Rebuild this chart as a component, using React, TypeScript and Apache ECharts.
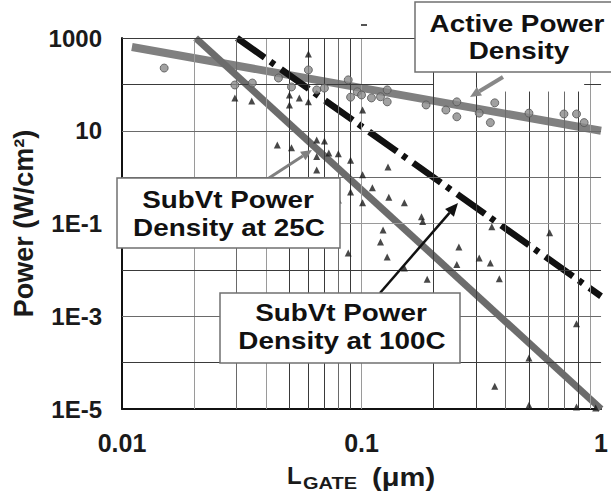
import { useEffect, useRef } from 'react';
import * as echarts from 'echarts';

// Power density versus gate length, both axes logarithmic.
const xTickValues = [0.01, 0.1, 1];
const xTickLabels = ['0.01', '0.1', '1'];
const yTickValues = [1e-5, 1e-3, 1e-1, 10, 1000];
const yTickLabels = ['1E-5', '1E-3', '1E-1', '10', '1000'];

// Trend lines, [L_gate (µm), power (W/cm²)]
const activePowerFit = [[0.011, 640], [1, 10]];
const subVt25Fit = [[0.0203, 1000], [1, 1e-5]];
const subVt100Fit = [[0.0302, 1000], [1, 2.7e-3]];

// Measured active power density
const activePowerPoints = [
  [0.015, 225], [0.0296, 97], [0.035, 107], [0.045, 137], [0.051, 88],
  [0.06, 205], [0.065, 76], [0.07, 83], [0.088, 125], [0.09, 53],
  [0.096, 69], [0.1, 59], [0.11, 51], [0.12, 54], [0.128, 76],
  [0.128, 42], [0.186, 36], [0.225, 28], [0.25, 42], [0.25, 20],
  [0.31, 24], [0.36, 40], [0.345, 15], [0.5, 24], [0.7, 23],
  [0.79, 23], [0.85, 15],
];

// Measured subthreshold power density
const subVtPoints = [
  [0.0296, 51], [0.0348, 44], [0.05, 59], [0.05, 36], [0.055, 51],
  [0.06, 42], [0.06, 452], [0.101, 28],
  [0.0445, 4.9], [0.051, 4.3], [0.065, 6.3], [0.07, 6.0], [0.065, 2.8],
  [0.073, 3.3], [0.08, 3.2], [0.09, 2.3], [0.065, 1.43],
  [0.101, 1.12], [0.129, 1.66], [0.111, 0.59], [0.09, 0.48], [0.13, 0.37],
  [0.08, 0.32], [0.101, 0.28], [0.151, 0.28],
  [0.178, 0.14], [0.18, 0.11], [0.123, 0.072], [0.12, 0.04], [0.088, 0.023],
  [0.128, 0.019], [0.151, 0.011],
  [0.188, 0.0063], [0.35, 0.085], [0.61, 0.063], [0.255, 0.031], [0.25, 0.013],
  [0.31, 0.018], [0.345, 0.014], [0.376, 0.0064],
  [0.25, 5.9e-4], [0.79, 6.9e-4], [0.5, 1.26e-4], [0.36, 3.1e-5],
  [0.5, 1.2e-5], [0.79, 1.1e-5], [0.95, 1.05e-5],
];

// Grid lines
const xGridValues = [0.02, 0.03, 0.04, 0.05, 0.06, 0.07, 0.08, 0.09, 0.1,
  0.2, 0.3, 0.4, 0.5, 0.6, 0.7, 0.8, 0.9];
const yGridValues = [1e-4, 1e-3, 1e-2, 1e-1, 1, 10, 100, 1000];

const DARK = '#3a3a3a';
const MID = '#6a6a6a';
const LIGHT = '#9a9a9a';
const xGridShade = [LIGHT, MID, LIGHT, DARK, DARK, DARK, MID, DARK, LIGHT,
  DARK, DARK, MID, DARK, MID, MID, DARK, LIGHT];
const xGridTop = [1000, 1000, 1000, 1000, 1000, 1000, 1000, 1000, 1000,
  1000, 1000, 70, 70, 70, 70, 70, 1000];
const yGridShade = [DARK, MID, DARK, LIGHT, MID, MID, DARK, DARK];

const tickFormatter = (vals: number[], labels: string[]) => (v: number) => {
  const i = vals.findIndex((t) => Math.abs(Math.log10(t) - Math.log10(v)) < 1e-6);
  return i < 0 ? '' : labels[i];
};

function gridSegments() {
  const segs: any[] = [];
  xGridValues.forEach((x, i) => {
    segs.push([
      { coord: [x, 1e-5], lineStyle: { color: xGridShade[i], width: 1, type: 'solid' } },
      { coord: [x, xGridTop[i]] },
    ]);
  });
  yGridValues.forEach((y, i) => {
    const style = { color: yGridShade[i], width: 1, type: 'solid' };
    if (y === 100) {
      segs.push([{ coord: [0.01, y], lineStyle: style }, { coord: [0.2, y] }]);
      segs.push([{ coord: [0.85, y], lineStyle: style }, { coord: [1, y] }]);
    } else {
      segs.push([{ coord: [0.01, y], lineStyle: style }, { coord: [1, y] }]);
    }
  });
  return segs;
}

function arrow(x1: number, y1: number, x2: number, y2: number, color: string, width: number, head: number) {
  const a = Math.atan2(y2 - y1, x2 - x1);
  const bx = x2 - head * Math.cos(a);
  const by = y2 - head * Math.sin(a);
  const hw = head * 0.45;
  const p1 = [bx + hw * Math.sin(a), by - hw * Math.cos(a)];
  const p2 = [bx - hw * Math.sin(a), by + hw * Math.cos(a)];
  return [
    { type: 'line', z: 90, shape: { x1, y1, x2: bx, y2: by }, style: { stroke: color, lineWidth: width } },
    { type: 'polygon', z: 90, shape: { points: [[x2, y2], p1, p2] }, style: { fill: color } },
  ];
}

const FONT = '"Liberation Sans", Arial, sans-serif';

function boxText(x: number, y: number, text: string) {
  return {
    type: 'text', z: 101, x, y, scaleX: 1.16,
    style: {
      text, font: `bold 24px ${FONT}`, fill: '#111',
      textAlign: 'center', textVerticalAlign: 'middle',
    },
  };
}

function box(x: number, y: number, w: number, h: number) {
  return {
    type: 'rect', z: 100, shape: { x, y, width: w, height: h },
    style: { fill: '#fff', stroke: '#707070', lineWidth: 1.5 },
  };
}

export default function App() {
  const ref = useRef<HTMLDivElement>(null);

  useEffect(() => {
    if (!ref.current) return;
    const chart = echarts.init(ref.current, null, { renderer: 'svg' });
    chart.setOption({
      animation: false,
      backgroundColor: '#fff',
      grid: { left: 122, right: 1, top: 38, bottom: 88 },
      xAxis: {
        type: 'log', logBase: 10, min: 0.01, max: 1, interval: 1,
        axisLine: { show: true, lineStyle: { color: '#111', width: 2 } },
        axisTick: { show: false },
        splitLine: { show: false },
        axisLabel: {
          margin: 21, color: '#1a1a1a', fontFamily: FONT, fontSize: 25, fontWeight: 'bold',
          formatter: tickFormatter(xTickValues, xTickLabels),
        },
      },
      yAxis: {
        type: 'log', logBase: 10, min: 1e-5, max: 1000, interval: 1,
        name: 'Power (W/cm²)', nameLocation: 'middle', nameGap: 85, nameRotate: 90,
        nameTextStyle: {
          color: '#1a1a1a', fontFamily: FONT, fontSize: 27, fontWeight: 'bold',
        },
        axisLine: { show: true, lineStyle: { color: '#111', width: 2 } },
        axisTick: { show: false },
        splitLine: { show: false },
        axisLabel: {
          margin: 20, color: '#1a1a1a', fontFamily: FONT, fontSize: 24, fontWeight: 'bold',
          formatter: tickFormatter(yTickValues, yTickLabels),
        },
      },
      series: [
        {
          type: 'line', z: 1, data: [[0.5, 1]], symbol: 'none', silent: true,
          lineStyle: { width: 0 },
          markLine: {
            silent: true, symbol: ['none', 'none'], label: { show: false },
            animation: false, data: gridSegments(),
          },
        },
        {
          name: 'Active Power Density', type: 'line', z: 3, data: activePowerFit,
          symbol: 'none', lineStyle: { color: '#808080', width: 8 },
        },
        {
          name: 'SubVt Power Density at 25C', type: 'line', z: 3, data: subVt25Fit,
          symbol: 'none', lineStyle: { color: '#6c6c6c', width: 7 },
        },
        {
          name: 'SubVt Power Density at 100C', type: 'line', z: 3, data: subVt100Fit,
          symbol: 'none', lineStyle: { color: '#111', width: 6.5, type: [34, 7, 5, 8] },
        },
        {
          type: 'scatter', z: 5, data: activePowerPoints, symbol: 'circle', symbolSize: 8,
          itemStyle: { color: '#8a8a8a', borderColor: '#555', borderWidth: 1 },
        },
        {
          type: 'scatter', z: 5, data: subVtPoints, symbol: 'triangle', symbolSize: 7,
          itemStyle: { color: '#1a1a1a' },
        },
      ],
      graphic: [
        // stray tick above the plot
        { type: 'line', z: 90, shape: { x1: 361, y1: 25, x2: 367, y2: 25 }, style: { stroke: '#555', lineWidth: 2 } },
        ...arrow(503, 77, 470, 97, '#888', 4, 11),
        ...arrow(269, 178, 312, 150, '#808080', 3, 11),
        ...arrow(380, 293, 458, 203, '#111', 2.5, 13),
        box(415, 2, 205, 70),
        boxText(517, 24, 'Active Power'),
        boxText(519, 51, 'Density'),
        box(117, 178, 223, 70),
        boxText(228, 200, 'SubVt Power'),
        boxText(229, 228, 'Density at 25C'),
        box(220, 293, 240, 70),
        boxText(341, 313, 'SubVt Power'),
        boxText(342, 341, 'Density at 100C'),
        // x-axis title: L_GATE (µm)
        {
          type: 'text', z: 101, x: 287, y: 475,
          style: { text: 'L', font: `bold 24px ${FONT}`, fill: '#1a1a1a', textAlign: 'left', textVerticalAlign: 'middle' },
        },
        {
          type: 'text', z: 101, x: 303, y: 484, scaleX: 1.25,
          style: { text: 'GATE', font: `bold 16px ${FONT}`, fill: '#1a1a1a', textAlign: 'left', textVerticalAlign: 'middle' },
        },
        {
          type: 'text', z: 101, x: 372, y: 477, scaleX: 1.12,
          style: { text: '(μm)', font: `bold 26px ${FONT}`, fill: '#1a1a1a', textAlign: 'left', textVerticalAlign: 'middle' },
        },
      ],
    });
    return () => chart.dispose();
  }, []);

  return (
    <div
      ref={ref}
      style={{ position: 'fixed', left: 0, top: 0, width: 611, height: 497, background: '#fff' }}
    />
  );
}
